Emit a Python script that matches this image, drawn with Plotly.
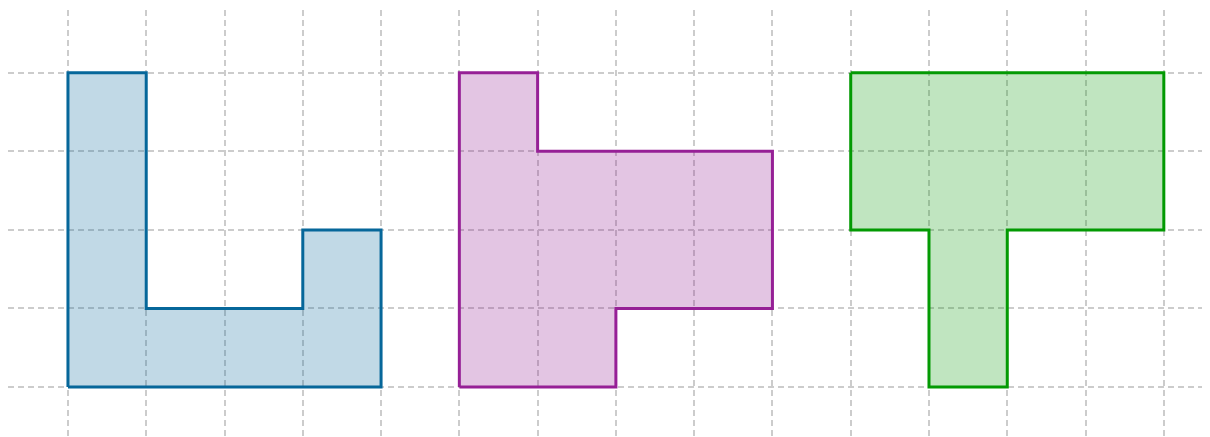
import plotly.graph_objects as go

# Polygon vertices (grid units)
blue_x = [0, 4, 4, 3, 3, 1, 1, 0, 0]
blue_y = [0, 0, 2, 2, 1, 1, 4, 4, 0]
purple_x = [5, 7, 7, 9, 9, 6, 6, 5, 5]
purple_y = [0, 0, 1, 1, 3, 3, 4, 4, 0]
green_x = [10, 14, 14, 12, 12, 11, 11, 10, 10]
green_y = [4, 4, 2, 2, 0, 0, 2, 2, 4]

shapes = [
    (blue_x, blue_y, "#06679a", "rgba(6,103,154,0.25)"),
    (purple_x, purple_y, "#962096", "rgba(143,23,143,0.25)"),
    (green_x, green_y, "#039a03", "rgba(3,151,3,0.25)"),
]

fig = go.Figure()
for xs, ys, lc, fc in shapes:
    fig.add_trace(go.Scatter(x=xs, y=ys, mode="lines", fill="toself",
                             fillcolor=fc, line=dict(color=lc, width=3),
                             hoverinfo="skip", showlegend=False))

axis_common = dict(showgrid=True, gridcolor="#cccccc", gridwidth=1.5,
                   griddash="6px,4px", zeroline=False, showticklabels=False,
                   ticks="", showline=False, dtick=1, tick0=0)
fig.update_xaxes(range=[-0.766, 14.59], **axis_common)
fig.update_yaxes(range=[-0.637, 4.80], **axis_common)
fig.update_layout(width=1202, height=429, margin=dict(l=0, r=0, t=2, b=0),
                  plot_bgcolor="white", paper_bgcolor="white")
fig.write_html("out.html")
